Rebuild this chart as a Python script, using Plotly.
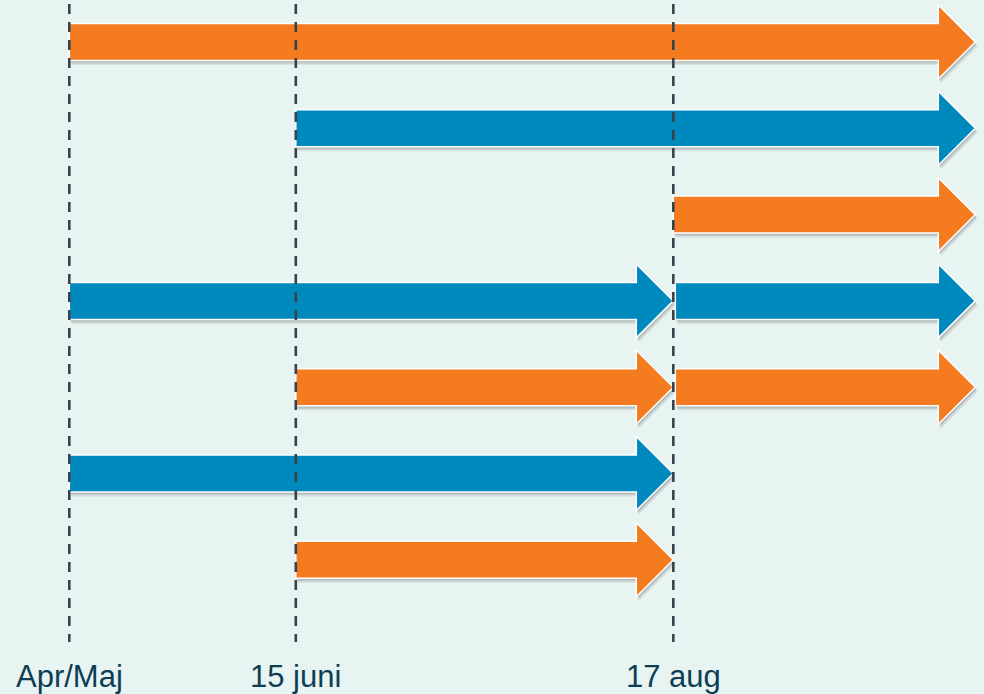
import plotly.graph_objects as go

# ---- data ----
milestone_pos = [0, 3, 8]
milestone_labels = ["Apr/Maj", "15 juni", "17 aug"]
timeline_end = 12

arrow_row = [1, 2, 3, 4, 4, 5, 5, 6, 7]
arrow_start = [0, 3, 8, 0, 8, 3, 8, 0, 3]
arrow_end = [12, 12, 12, 8, 12, 8, 12, 8, 8]
arrow_kind = ["orange", "blue", "orange", "blue", "blue", "orange", "orange", "blue", "orange"]

# ---- style ----
COLORS = {"orange": "#F47B20", "blue": "#0089BC"}
BG = "#E7F4F2"
TEXT = "#0D3E54"

W, H = 984, 694
PX_X = 75.5      # pixels per x unit
PX_Y = 86.3      # pixels per row
X0_PX = 69.3
Y0_PX = 42.0

x_range = [-X0_PX / PX_X, (W - X0_PX) / PX_X]
y_range = [1 + (H - Y0_PX) / PX_Y, 1 - Y0_PX / PX_Y]  # reversed

body_h = 18.5 / PX_Y
head_h = 37.0 / PX_Y
head_l = 37.0 / PX_X


def arrow_path(x0, x1, yc, dx=0.0, dy=0.0):
    xb = x1 - head_l
    pts = [
        (x0, yc - body_h), (xb, yc - body_h), (xb, yc - head_h), (x1, yc),
        (xb, yc + head_h), (xb, yc + body_h), (x0, yc + body_h),
    ]
    return "M " + " L ".join(f"{px + dx},{py + dy}" for px, py in pts) + " Z"


fig = go.Figure()
# invisible trace to establish axes
fig.add_trace(go.Scatter(x=[x_range[0], x_range[1]], y=[y_range[0], y_range[1]],
                         mode="markers", marker=dict(opacity=0), hoverinfo="skip",
                         showlegend=False))

shapes = []
for r, s, e, k in zip(arrow_row, arrow_start, arrow_end, arrow_kind):
    xs = s + (2.0 / PX_X if s > 0 and any(
        rr == r and ee == s for rr, ee in zip(arrow_row, arrow_end)) else 0)
    for off, op in [(4.5, 0.10), (3.0, 0.14), (1.5, 0.14)]:
        shapes.append(dict(type="path", xref="x", yref="y", layer="above",
                           path=arrow_path(xs, e, r, dx=off * 0.5 / PX_X, dy=off / PX_Y),
                           fillcolor="rgba(60,60,60,%s)" % op, line=dict(width=0)))
    shapes.append(dict(type="path", xref="x", yref="y", layer="above",
                       path=arrow_path(xs, e, r),
                       fillcolor=COLORS[k], line=dict(color="white", width=1.5)))

for m in milestone_pos:
    shapes.append(dict(type="line", xref="x", yref="paper", layer="above",
                       x0=m, x1=m, y0=1 - 4.0 / H, y1=1 - 642.0 / H,
                       line=dict(color="#36434D", width=2.6, dash="10px,8px")))

label_y = 1 + (676 - Y0_PX) / PX_Y
annotations = [
    dict(x=m, y=label_y, xref="x", yref="y", text=t, showarrow=False,
         xanchor="center", yanchor="middle",
         font=dict(family="Liberation Sans, Arial, sans-serif", size=31, color=TEXT))
    for m, t in zip(milestone_pos, milestone_labels)
]

fig.update_layout(
    width=W, height=H,
    margin=dict(l=0, r=0, t=0, b=0),
    paper_bgcolor=BG, plot_bgcolor=BG,
    shapes=shapes, annotations=annotations,
    xaxis=dict(range=x_range, visible=False, fixedrange=True),
    yaxis=dict(range=y_range, visible=False, fixedrange=True),
    showlegend=False,
)

fig.write_html("out.html", config={"displayModeBar": False},
               post_script="document.body.style.margin='0';document.body.style.overflow='hidden';")
